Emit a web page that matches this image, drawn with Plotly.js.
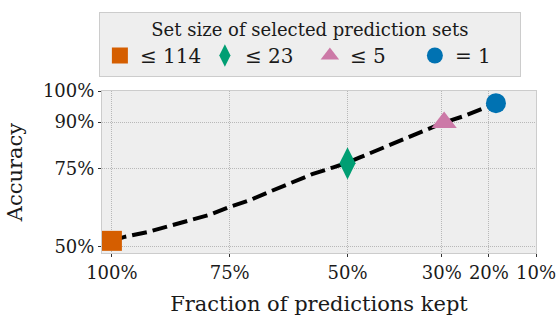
<!DOCTYPE html>
<html>
<head>
<meta charset="utf-8">
<script src="https://cdn.plot.ly/plotly-3.0.1.min.js"></script>
<style>html,body{margin:0;padding:0;background:#fff;}#chart{width:559px;height:316px;}</style>
</head>
<body>
<div id="chart"></div>
<script>
// Curve: fraction of predictions kept (%) vs accuracy (%)
const fractionKept = [100, 97.5, 92.5, 88.5, 83.5, 79, 75, 70.5, 66.5, 63, 57.5, 53, 50, 47.5, 40, 34, 30, 25, 21, 18.5];
const accuracy     = [51.9, 53.1, 54.7, 56.3, 58.3, 60.4, 62.8, 65.1, 67.7, 69.8, 73.3, 75.5, 77.0, 78.6, 83.3, 86.9, 89.6, 92.1, 94.4, 96.1];

// Highlighted prediction-set sizes
const setLabels   = ['≤ 114', '≤ 23', '≤ 5', '= 1'];
const setFraction = [100, 50, 29.5, 18.5];
const setAccuracy = [51.9, 76.8, 89.9, 96.1];
const setSymbols  = ['square', 'diamond-tall', 'triangle-up', 'circle'];
const setColors   = ['#D55E00', '#009E73', '#CC79A7', '#0072B2'];
const setSizes    = [20, 23, 22, 20];

// Axis ticks
const xTickVals = [100, 75, 50, 30, 20, 10];
const xTickText = ['100%', '75%', '50%', '30%', '20%', '10%'];
const yTickVals = [50, 75, 90, 100];
const yTickText = ['50%', '75%', '90%', '100%'];

const FONT = 'DejaVu Serif, serif';

const traces = [{
  x: fractionKept, y: accuracy, type: 'scatter', mode: 'lines',
  line: {color: '#000000', width: 4, dash: '15px,6px'},
  showlegend: false, hoverinfo: 'skip'
}];
for (let i = 0; i < setLabels.length; i++) {
  traces.push({
    x: [setFraction[i]], y: [setAccuracy[i]], type: 'scatter', mode: 'markers',
    name: setLabels[i],
    marker: {symbol: setSymbols[i], color: setColors[i], size: setSizes[i], line: {width: 0}}
  });
}

const layout = {
  width: 559, height: 316,
  margin: {l: 102, r: 23, t: 86, b: 63},
  paper_bgcolor: '#ffffff', plot_bgcolor: '#EEEEEE',
  font: {family: FONT, color: '#1a1a1a', size: 18},
  showlegend: true,
  legend: {
    orientation: 'h', x: 0.479, xanchor: 'center', y: 1.49, yanchor: 'top',
    bgcolor: '#EEEEEE', bordercolor: '#CCCCCC', borderwidth: 1,
    font: {family: FONT, size: 20, color: '#1a1a1a'},
    entrywidth: 60, entrywidthmode: 'pixels',
    title: {text: 'Set size of selected prediction sets', side: 'top center', font: {family: FONT, size: 18, color: '#1a1a1a'}},
    itemsizing: 'trace'
  },
  xaxis: {
    range: [102.1, 10], autorange: false,
    tickvals: xTickVals, ticktext: xTickText,
    ticks: 'outside', ticklen: 3, tickcolor: '#333333', tickwidth: 1,
    showgrid: true, gridcolor: '#b8b8b8', gridwidth: 1, griddash: '1px,1px',
    showline: true, mirror: true, linecolor: '#CCCCCC', linewidth: 1,
    zeroline: false,
    tickfont: {family: FONT, size: 18, color: '#1a1a1a'},
    title: {text: 'Fraction of predictions kept', font: {family: FONT, size: 21, color: '#1a1a1a'}, standoff: 14}
  },
  yaxis: {
    range: [48, 100], autorange: false,
    tickvals: yTickVals, ticktext: yTickText,
    ticks: 'outside', ticklen: 3, tickcolor: '#333333', tickwidth: 1,
    showgrid: true, gridcolor: '#b8b8b8', gridwidth: 1, griddash: '1px,1px',
    showline: true, mirror: true, linecolor: '#CCCCCC', linewidth: 1,
    zeroline: false,
    tickfont: {family: FONT, size: 18, color: '#1a1a1a'},
    title: {text: 'Accuracy', font: {family: FONT, size: 21, color: '#1a1a1a'}, standoff: 14}
  }
};

Plotly.newPlot('chart', traces, layout, {displayModeBar: false, staticPlot: true});
</script>
</body>
</html>
